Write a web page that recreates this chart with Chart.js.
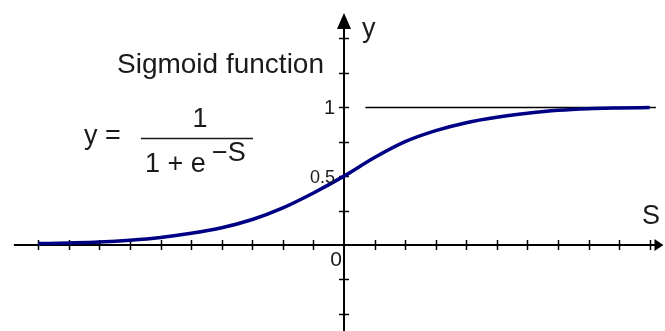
<!DOCTYPE html>
<html>
<head>
<meta charset="utf-8">
<script src="https://cdn.jsdelivr.net/npm/chart.js"></script>
<style>
  body { margin: 0; background: #fff; }
  canvas { display: block; }
</style>
</head>
<body>
<canvas id="sigmoidChart" width="665" height="331"></canvas>
<script>
  // values
  var sValues = [-10, -9, -8, -7, -6, -5, -4, -3, -2, -1, 0, 1, 2, 3, 4, 5, 6, 7, 8, 9, 10];
  var yValues = [0.01, 0.015, 0.022, 0.035, 0.055, 0.085, 0.125, 0.185, 0.27, 0.378, 0.5,
                 0.635, 0.75, 0.83, 0.888, 0.927, 0.956, 0.978, 0.99, 0.995, 0.998];
  var xTicks = [-10, -9, -8, -7, -6, -5, -4, -3, -2, -1, 1, 2, 3, 4, 5, 6, 7, 8, 9, 10];
  var yTicks = [-0.5, -0.25, 0.25, 0.5, 0.75, 1, 1.25, 1.5];
  var yTickLabels = [{ v: 1, text: '1', size: 20 }, { v: 0.5, text: '0.5', size: 18 }];
  var asymptote = [0.7, 10.2];

  var curve = sValues.map(function(s, i) { return { x: s, y: yValues[i] }; });

  var FONT = '"Liberation Sans", Arial, sans-serif';
  var INK = '#1a1a1a';

  var axesPlugin = {
    id: 'axesPlugin',
    beforeDatasetsDraw: function(chart) {
      var c = chart.ctx, xs = chart.scales.x, ys = chart.scales.y;
      var x0 = xs.getPixelForValue(0), y0 = ys.getPixelForValue(0);
      c.save();
      c.strokeStyle = '#000';
      c.lineWidth = 2;
      // axes
      c.beginPath();
      c.moveTo(xs.getPixelForValue(-10.8), y0);
      c.lineTo(xs.getPixelForValue(10.35), y0);
      c.moveTo(x0, chart.height);
      c.lineTo(x0, ys.getPixelForValue(1.6));
      c.stroke();
      // tick marks
      c.lineWidth = 1.5;
      c.beginPath();
      xTicks.forEach(function(t) {
        var px = Math.round(xs.getPixelForValue(t)) + 0.5;
        c.moveTo(px, y0 - 5);
        c.lineTo(px, y0 + 5);
      });
      yTicks.forEach(function(t) {
        var py = Math.round(ys.getPixelForValue(t)) + 0.5;
        c.moveTo(x0 - 5, py);
        c.lineTo(x0 + 5, py);
      });
      c.stroke();
      // arrows
      c.fillStyle = '#000';
      var ax = xs.getPixelForValue(10.45);
      c.beginPath();
      c.moveTo(ax, y0);
      c.lineTo(ax - 9, y0 - 6);
      c.lineTo(ax - 9, y0 + 6);
      c.closePath();
      c.fill();
      var ay = ys.getPixelForValue(1.7);
      c.beginPath();
      c.moveTo(x0, ay + 2);
      c.lineTo(x0 - 7, ay + 18);
      c.lineTo(x0 + 7, ay + 18);
      c.closePath();
      c.fill();
      // asymptote y = 1
      var ya = Math.round(ys.getPixelForValue(1)) + 0.5;
      c.lineWidth = 1.5;
      c.beginPath();
      c.moveTo(xs.getPixelForValue(asymptote[0]), ya);
      c.lineTo(xs.getPixelForValue(asymptote[1]), ya);
      c.stroke();
      c.restore();
    },
    afterDatasetsDraw: function(chart) {
      var c = chart.ctx, xs = chart.scales.x, ys = chart.scales.y;
      var x0 = xs.getPixelForValue(0), y0 = ys.getPixelForValue(0);
      c.save();
      c.fillStyle = INK;
      c.textBaseline = 'alphabetic';
      // tick labels
      c.textAlign = 'right';
      yTickLabels.forEach(function(l) {
        c.font = l.size + 'px ' + FONT;
        c.fillText(l.text, x0 - 9, ys.getPixelForValue(l.v) + 7);
      });
      c.font = '21px ' + FONT;
      c.fillText('0', x0 - 2, y0 + 21);
      // axis names
      c.textAlign = 'left';
      c.font = '27px ' + FONT;
      c.fillText('y', 362, 37);
      c.fillText('S', 642, 224);
      // title and formula
      c.font = '28px ' + FONT;
      c.fillText('Sigmoid function', 117, 73);
      c.font = '27px ' + FONT;
      c.fillText('y =', 84, 144);
      c.textAlign = 'center';
      c.fillText('1', 200, 127);
      c.textAlign = 'left';
      c.fillText('1 + e', 145, 172);
      c.fillText('\u2212S', 212, 161);
      c.strokeStyle = INK;
      c.lineWidth = 1.5;
      c.beginPath();
      c.moveTo(141, 138.5);
      c.lineTo(253, 138.5);
      c.stroke();
      c.restore();
    }
  };

  var ctx = document.getElementById('sigmoidChart').getContext('2d');
  var sigmoidChart = new Chart(ctx, {
    type: 'line',
    data: {
      datasets: [{
        label: 'Sigmoid',
        data: curve,
        borderColor: '#000085',
        borderWidth: 3.5,
        pointRadius: 0,
        fill: false,
        cubicInterpolationMode: 'monotone'
      }]
    },
    options: {
      responsive: false,
      animation: false,
      layout: { padding: 0 },
      plugins: {
        legend: { display: false },
        tooltip: { enabled: false }
      },
      scales: {
        x: { type: 'linear', display: false, min: -11.253, max: 10.5 },
        y: { type: 'linear', display: false, min: -0.6245, max: 1.779 }
      }
    },
    plugins: [axesPlugin]
  });
</script>
</body>
</html>
